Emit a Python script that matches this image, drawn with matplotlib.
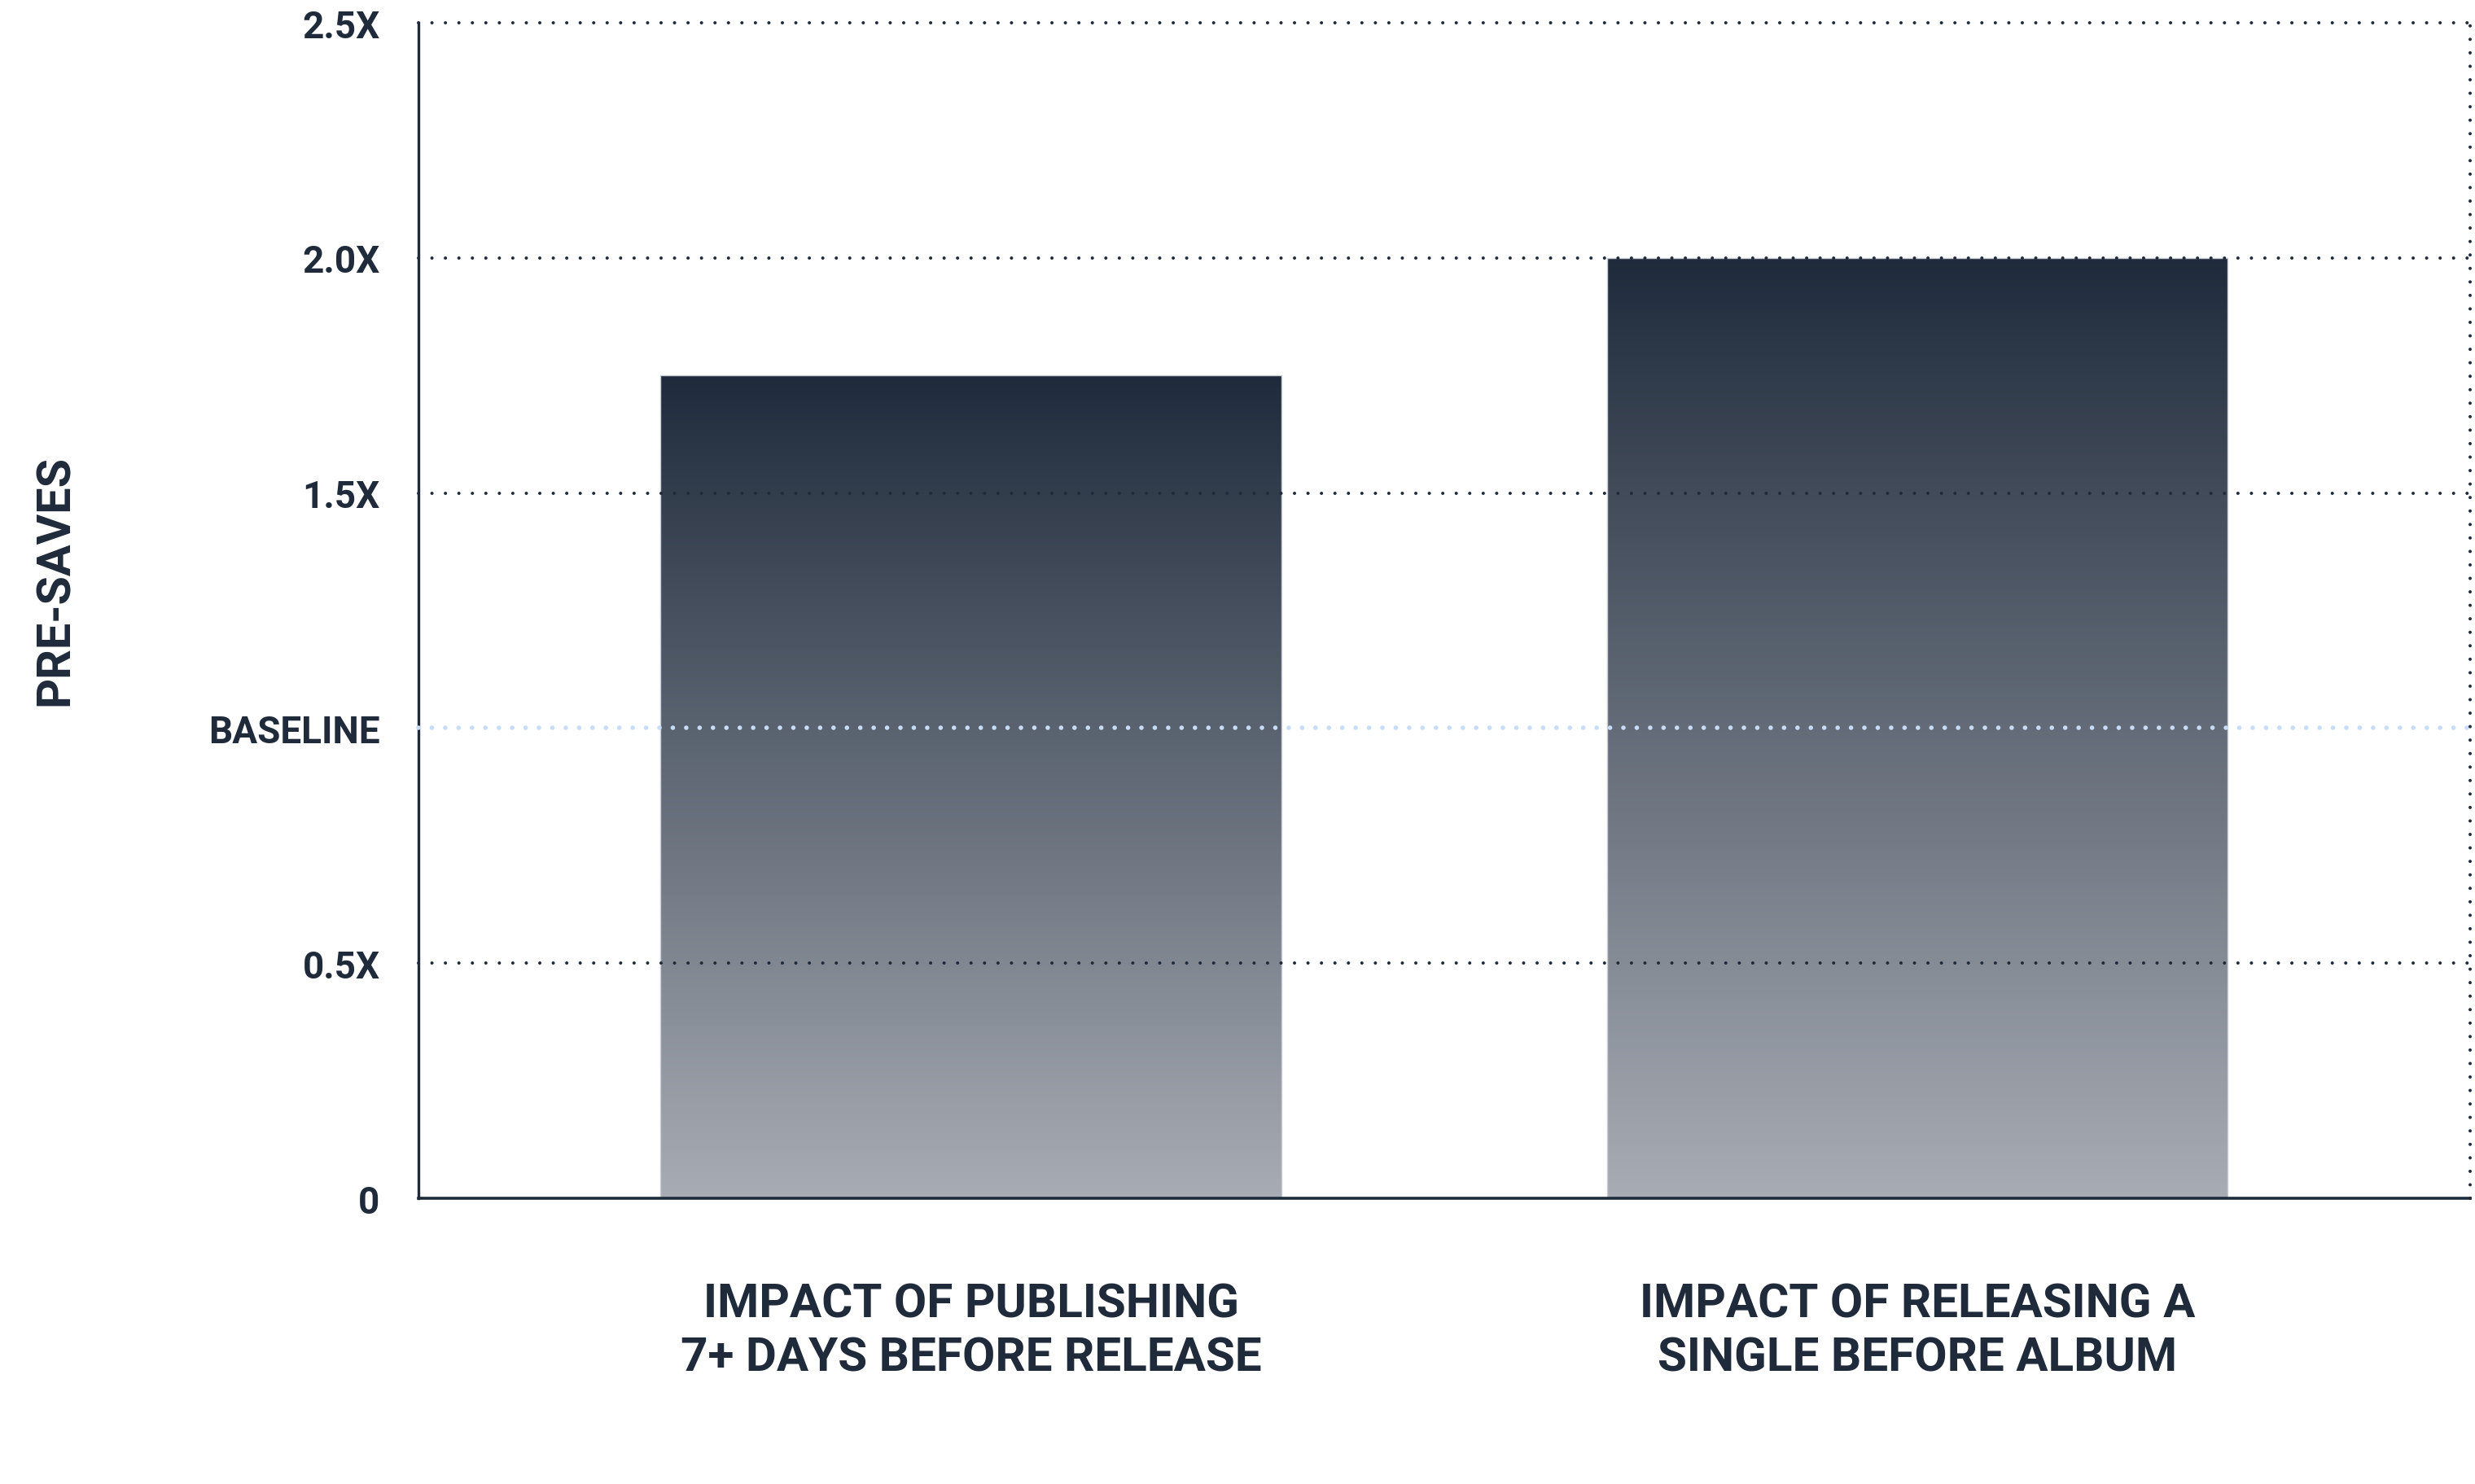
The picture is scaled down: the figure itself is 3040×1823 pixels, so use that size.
import numpy as np
import matplotlib
matplotlib.use("Agg")
import matplotlib.pyplot as plt
from matplotlib.colors import LinearSegmentedColormap

# data
categories = ["IMPACT OF PUBLISHING\n7+ DAYS BEFORE RELEASE",
              "IMPACT OF RELEASING A\nSINGLE BEFORE ALBUM"]
values = [1.75, 2.0]
ytick_vals = [0, 0.5, 1.0, 1.5, 2.0, 2.5]
ytick_labels = ["0", "0.5X", "BASELINE", "1.5X", "2.0X", "2.5X"]

NAVY = "#1f2a3a"
BASE_BLUE = "#c6dcf8"

plt.rcParams["font.family"] = ["Roboto", "DejaVu Sans"]

fig = plt.figure(figsize=(15.2, 9.12), dpi=200)
ax = fig.add_axes([0.169, 0.1924, 0.829, 0.7917])

x = np.arange(len(values))
bars = ax.bar(x, values, width=0.656, color="none", edgecolor="#c9ccd2", linewidth=0.5, zorder=2)

# gradient fill for each bar
cmap = LinearSegmentedColormap.from_list("grad", ["#a8acb4", "#1f2b3c"])
grad = np.linspace(0, 1, 256).reshape(-1, 1)
for b in bars:
    x0, w, h = b.get_x(), b.get_width(), b.get_height()
    im = ax.imshow(grad, cmap=cmap, origin="lower", aspect="auto",
                   extent=(x0, x0 + w, 0, h), zorder=1)
    im.set_clip_path(b)

ax.set_xlim(-0.584, 1.584)
ax.set_ylim(0, 2.5)

# dotted grid lines above bars
dots = (0, (0.01, 4.1))
for v in ytick_vals[1:]:
    if v == 1.0:
        ax.axhline(v, color=BASE_BLUE, linewidth=2.0, linestyle=(0, (0.01, 2.95)),
                   dash_capstyle="round", zorder=3, clip_on=False)
    else:
        ax.axhline(v, color=NAVY, linewidth=1.45, linestyle=dots,
                   dash_capstyle="round", zorder=3, clip_on=False)
# dotted right edge
ax.axvline(1.584, color=NAVY, linewidth=1.45, linestyle=dots,
           dash_capstyle="round", zorder=3, clip_on=False)

for s in ["top", "right"]:
    ax.spines[s].set_visible(False)
ax.spines["left"].set_color(NAVY)
ax.spines["left"].set_linewidth(1.2)
ax.spines["bottom"].set_color(NAVY)
ax.spines["bottom"].set_linewidth(1.3)
ax.spines["bottom"].set_zorder(4)

ax.set_yticks(ytick_vals)
ax.set_yticklabels(ytick_labels, fontsize=16.5, fontweight="bold", color=NAVY)
ax.tick_params(axis="y", length=0, pad=17)

ax.set_xticks(x)
ax.set_xticklabels(categories, fontsize=21, fontweight="bold", color=NAVY,
                   linespacing=1.25)
ax.tick_params(axis="x", length=0, pad=37)

fig.text(0.0224, 0.609, "PRE-SAVES", rotation=90, fontsize=20.7,
         fontweight="bold", color=NAVY, ha="center", va="center")

fig.savefig("out.png", dpi=200, facecolor="white")
